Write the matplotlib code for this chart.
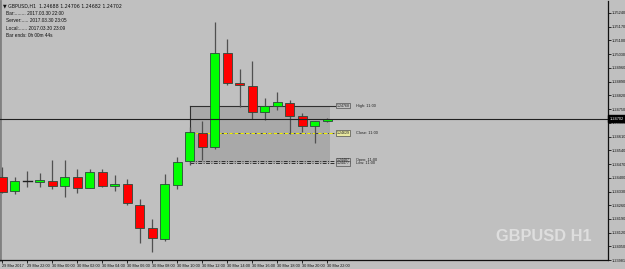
import matplotlib
matplotlib.use("Agg")
import matplotlib.pyplot as plt
from matplotlib.patches import Rectangle

# ---- data ----
times = ["29 Mar 20:00", "29 Mar 21:00", "29 Mar 22:00", "29 Mar 23:00",
         "30 Mar 00:00", "30 Mar 01:00", "30 Mar 02:00", "30 Mar 03:00",
         "30 Mar 04:00", "30 Mar 05:00", "30 Mar 06:00", "30 Mar 07:00",
         "30 Mar 08:00", "30 Mar 09:00", "30 Mar 10:00", "30 Mar 11:00",
         "30 Mar 12:00", "30 Mar 13:00", "30 Mar 14:00", "30 Mar 15:00",
         "30 Mar 16:00", "30 Mar 17:00", "30 Mar 18:00", "30 Mar 19:00",
         "30 Mar 20:00", "30 Mar 21:00", "30 Mar 22:00"]
opens  = [1.24405, 1.24334, 1.24385, 1.24380, 1.24385, 1.24359, 1.24405, 1.24349,
          1.24431, 1.24359, 1.24369, 1.24263, 1.24145, 1.24089, 1.24364, 1.24487,
          1.24629, 1.24558, 1.25036, 1.24884, 1.24868, 1.24736, 1.24767, 1.24782,
          1.24716, 1.24665, 1.24688]
highs  = [1.24456, 1.24405, 1.24436, 1.24425, 1.24492, 1.24492, 1.24446, 1.24446,
          1.24446, 1.24415, 1.24395, 1.24293, 1.24191, 1.24420, 1.24507, 1.24660,
          1.24690, 1.25194, 1.25108, 1.24955, 1.24996, 1.24807, 1.24838, 1.24797,
          1.24731, 1.24690, 1.24706]
lows   = [1.24324, 1.24319, 1.24354, 1.24354, 1.24344, 1.24303, 1.24324, 1.24349,
          1.24354, 1.24334, 1.24263, 1.24069, 1.24023, 1.24079, 1.24344, 1.24466,
          1.24492, 1.24548, 1.24873, 1.24761, 1.24700, 1.24695, 1.24746, 1.24624,
          1.24634, 1.24578, 1.24682]
closes = [1.24329, 1.24385, 1.24386, 1.24390, 1.24359, 1.24405, 1.24349, 1.24431,
          1.24359, 1.24369, 1.24273, 1.24145, 1.24095, 1.24369, 1.24481, 1.24634,
          1.24558, 1.25036, 1.24884, 1.24873, 1.24736, 1.24767, 1.24787, 1.24716,
          1.24665, 1.24690, 1.24702]

price_ticks = [1.25240, 1.25170, 1.25100, 1.25030, 1.24960, 1.24890, 1.24820,
               1.24750, 1.24680, 1.24610, 1.24540, 1.24470, 1.24400, 1.24330,
               1.24260, 1.24190, 1.24120, 1.24050]
price_bottom = 1.23981
time_tick_idx = [0, 2, 4, 6, 8, 10, 12, 14, 16, 18, 20, 22, 24, 26]
time_tick_labels = ["29 Mar 2017", "29 Mar 22:00", "30 Mar 00:00", "30 Mar 02:00",
                    "30 Mar 04:00", "30 Mar 06:00", "30 Mar 08:00", "30 Mar 10:00",
                    "30 Mar 12:00", "30 Mar 14:00", "30 Mar 16:00", "30 Mar 18:00",
                    "30 Mar 20:00", "30 Mar 22:00"]

current_price = 1.24702
box_high = 1.24768
box_close = 1.24629
box_open = 1.24487
box_low = 1.24477
box_start, box_end = 15.0, 26.2
header = "GBPUSD,H1  1.24688 1.24706 1.24682 1.24702"
info_lines = ["Bar:........ 2017.03.30 22:00",
              "Server:..... 2017.03.30 23:05",
              "Local:...... 2017.03.30 23:09",
              "Bar ends: 0h 00m 44s"]

# ---- figure ----
BG = "#c0c0c0"
FONT = "Liberation Sans"
W, H = 625, 269
fig = plt.figure(figsize=(W / 100, H / 100), dpi=100, facecolor=BG)
ax = fig.add_axes([0 / W, (H - 260) / H, 608 / W, 259 / H], facecolor=BG)
ax.set_xlim(-0.16, 48.48)
ax.set_ylim(1.23983, 1.25301)

# box
xe = box_start + 11.6
ax.add_patch(Rectangle((box_start, box_low), box_end - box_start, box_high - box_low,
                       facecolor="#a9a9a9", edgecolor="none", zorder=1))
ax.plot([box_start, xe], [box_high, box_high], color="#303030", lw=0.8, zorder=2)
ax.plot([box_start, box_start], [box_low, box_high], color="#303030", lw=0.8, zorder=2)
ax.plot([box_start, xe], [box_close, box_close], color="#404040", lw=0.7,
        ls=(0, (4, 1.5, 1, 1.5)), zorder=2)
ax.plot([box_start, xe], [box_close, box_close], color="#f0f000", lw=0.8,
        ls=(0, (3, 2)), zorder=2)
ax.plot([box_start, xe], [box_open, box_open], color="#303030", lw=0.7,
        ls=(0, (4, 1.5, 1, 1.5)), zorder=2)
ax.plot([box_start, xe], [box_low, box_low], color="#303030", lw=0.7,
        ls=(0, (4, 1.5, 1, 1.5)), zorder=2)

# candles
bw = 0.72
for i, (o, h, l, c) in enumerate(zip(opens, highs, lows, closes)):
    ax.plot([i, i], [l, h], color="#505050", lw=0.9, zorder=3, solid_capstyle="butt")
    lo, hi = min(o, c), max(o, c)
    if hi - lo < 0.00002:
        ax.plot([i - bw / 2, i + bw / 2], [o, o], color="#202020", lw=1.0, zorder=4)
        continue
    col = "#00ff00" if c >= o else "#ff0000"
    ax.add_patch(Rectangle((i - bw / 2, lo), bw, hi - lo, facecolor=col,
                           edgecolor="#2a4a3a", lw=0.6, zorder=4))

# current price line
ax.axhline(current_price, color="#202020", lw=0.8, zorder=5)

# box labels
lab_x = xe + 0.15
for val, txt, fc, dy in [(box_high, "High: 11:00", "#c0c0c0", 0),
                         (box_close, "Close: 11:00", "#e8e8a0", 0),
                         (box_open, "Open: 11:00", "#c0c0c0", 0.00002),
                         (box_low, "Low: 11:00", "#c0c0c0", -0.00003)]:
    ax.text(lab_x, val + dy, f"{val:.5f}", fontsize=2.6, va="center", ha="left",
            color="#202020", zorder=6, family=FONT,
            bbox=dict(boxstyle="square,pad=0.2", fc=fc, ec="#505050", lw=0.5))
    ax.text(lab_x + 1.55, val + dy, txt, fontsize=2.8, va="center", ha="left",
            color="#202020", zorder=6, family=FONT)

# watermark
ax.text(592 / 608, 0.06, "GBPUSD H1", transform=ax.transAxes, fontsize=11.8,
        fontweight="bold", family=FONT, color="#dedede",
        ha="right", va="bottom", zorder=0)

# header text
fig.text(3 / W, 1 - 6 / H, "\u25bc " + header, fontsize=3.4, color="#101010",
         va="center", ha="left", family=["DejaVu Sans"])
for k, line in enumerate(info_lines):
    fig.text(6 / W, 1 - (13.5 + 7.3 * k) / H, line, fontsize=3.4, color="#101010",
             va="center", ha="left", family=FONT)

# axes styling
ax.spines["top"].set_visible(False)
ax.spines["left"].set_color("#808080")
ax.spines["left"].set_linewidth(2)
ax.spines["right"].set_color("#101010")
ax.spines["bottom"].set_color("#101010")
ax.spines["right"].set_linewidth(0.9)
ax.spines["bottom"].set_linewidth(0.9)

ax.yaxis.tick_right()
ax.set_yticks(price_ticks + [price_bottom])
ax.set_yticklabels([f"{v:.5f}" for v in price_ticks + [price_bottom]], family=FONT)
ax.tick_params(axis="y", which="both", length=2.0, width=0.6, pad=1.0,
               labelsize=2.8, colors="#101010", direction="out")
ax.set_xticks(time_tick_idx)
ax.set_xticklabels(time_tick_labels, ha="left", family=FONT)
ax.tick_params(axis="x", which="both", length=2.0, width=0.6, pad=0.8,
               labelsize=2.8, colors="#101010", direction="out")

# current price label on axis
ax.text(1.002, current_price, f"{current_price:.5f}", transform=ax.get_yaxis_transform(),
        fontsize=2.8, color="white", va="center", ha="left", zorder=10, clip_on=False,
        family=FONT, bbox=dict(boxstyle="square,pad=0.3", fc="black", ec="black"))

fig.savefig("out.png", dpi=100, facecolor=BG)
